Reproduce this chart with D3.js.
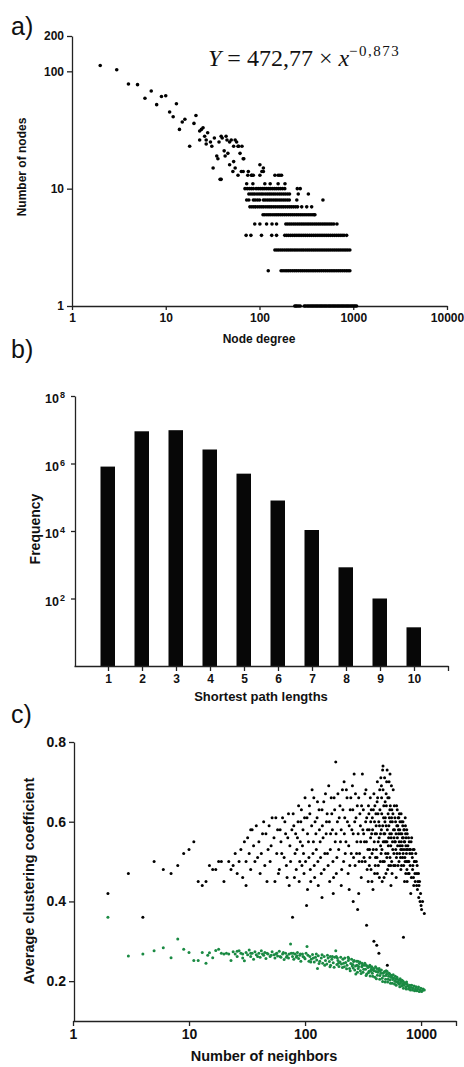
<!DOCTYPE html>
<meta charset="utf-8">
<style>
body { margin: 0; background: #fff; }
svg { display: block; font-family: "Liberation Sans", Arial, sans-serif; }
.axis path, .axis line { stroke: #222; stroke-width: 1.3px; }
.axis text { font-weight: bold; fill: #111; }
.lbl { font-weight: bold; fill: #111; }
.panel { font-size: 25px; fill: #111; }
</style>
<body>
<div id="chart"></div>
<script src="https://d3js.org/d3.v7.min.js"></script>
<script>
// ---- a) degree distribution: [degree, number of nodes]
var degreeSparse = [[2,112],[3,103],[4,78],[5,77],[6,59],[7,68],[8,52],[9,61],[10,62],[11,45],[12,41],[13,53],
  [14,32],[15,37],[16,39],[18,23],[20,36],[21,42],[23,31],[23,26],[24,32],[25,33],[26,28],[27,26],[27,24],[28,30],
  [30,25],[31,23],[32,15],[33,27],[35,19],[36,18],[37,25],[39,12],[39,28],[40,27],[42,21],[43,19],[44,28],[45,26],
  [46,20],[48,25],[48,16],[50,26],[53,23],[53,17],[55,15],[55,26],[57,25],[59,23],[60,23],[62,20],[64,14],[65,23],
  [67,18],[68,18],[76,14],[82,13],[86,13],[101,16],[110,15],[110,14],[158,13],[52,14],[59,13],[67,14],[83,13],
  [106,14],[172,13],[38,12],[75,13],[101,13],[146,13],[165,13]];
// rows of nodes sharing the same count: [count, degrees]
var degreeRows = [
  [11, [73,85,114,130,158,187]],
  [10, [70,74,78,82,86,92,97,102,107,112,118,124,130,137,144,151,159,167,176,186,253,272]],
  [9, [77,81,85,89,94,99,104,109,115,121,127,133,140,147,155,163,171,180,189,199,209,259,332]],
  [8, [73,77,86,90,95,100,110,115,121,127,133,140,147,154,162,170,179,188,198,208,250,475]],
  [7, [79,83,87,91,96,101,106,111,117,123,129,135,142,149,157,165,173,181,190,200,210,220,231,243,255,282,319,360]],
  [6, [109,114,120,126,132,139,146,153,160,168,176,185,194,204,214,224,235,247,259,272,285,299,314,330,346,363,380,390]],
  [5, [89,101,119,136,152,191,200,210,220,231,242,254,266,279,292,306,321,336,352,369,387,405,425,445,467,489,512,537,563,590,620,670]],
  [4, [72,81,105,135,152,186,195,204,214,224,235,246,258,270,283,297,311,326,342,358,375,393,412,432,453,475,498,522,547,573,601,630,660,692,725,760,797,850]],
  [3, [146,153,160,168,176,185,194,203,213,223,234,245,257,270,283,296,311,326,341,358,375,393,412,432,453,475,498,522,547,573,601,630,660,692,725,760,797,835,875,920]],
  [2, [124,170,178,187,196,205,215,226,237,248,260,273,286,300,315,330,346,363,380,398,418,438,459,481,504,528,554,580,608,637,668,700,733,768,805,843,880,920]],
  [1, [238,245,252,262,272,300,310,322,333,345,356,368,380,392,405,418,432,446,460,475,490,506,522,540,557,575,594,613,633,654,675,697,720,743,767,792,818,845,872,900,930,960,990,1020,1050,1085]]
];
var degreeTicks = [1, 10, 100, 1000, 10000];
var countTicks = [1, 10, 100, 200];

// ---- b) shortest path lengths
var pathLengths = [1, 2, 3, 4, 5, 6, 7, 8, 9, 10];
var pathFreq = [8.1e5, 9.0e6, 9.7e6, 2.6e6, 5.0e5, 8.0e4, 1.07e4, 840, 100, 14];
var freqTicks = [1e2, 1e4, 1e6, 1e8];

// ---- c) clustering coefficient vs neighbours: [neighbours, coefficient]
var clusterBlack = [[2,0.42],[3,0.47],[4,0.36],[5,0.50],[6,0.48],[7,0.47],[8,0.49],[9,0.52],[10,0.53],[11,0.55],
  [12,0.45],[13,0.44],[14,0.45],[15,0.49],[16,0.48],[17,0.48],[18,0.50],[19,0.50],[20,0.45],[22,0.50],[23,0.48],
  [24,0.49],[25,0.52],[26,0.47],[27,0.50],[28,0.53],[29,0.46],[30,0.55],[31,0.50],[32,0.56],[33,0.52],[34,0.48],
  [35,0.58],[36,0.54],[37,0.50],[38,0.59],[40,0.55],[41,0.47],[42,0.52],[44,0.60],[45,0.49],[46,0.57],[48,0.53],
  [50,0.50],[52,0.61],[54,0.56],[55,0.45],[57,0.52],[58,0.58],[60,0.48],[62,0.55],[64,0.61],[66,0.51],[68,0.57],
  [70,0.46],[72,0.62],[74,0.54],[75,0.50],[78,0.36],[80,0.59],[82,0.52],[84,0.48],[86,0.56],[88,0.64],[90,0.50],
  [92,0.60],[95,0.54],[98,0.47],[100,0.66],[103,0.39],[105,0.57],[108,0.51],[110,0.62],[112,0.45],[115,0.68],
  [118,0.55],[120,0.49],[122,0.60],[125,0.53],[128,0.65],[130,0.44],[133,0.58],[136,0.51],[140,0.63],[143,0.56],
  [146,0.48],[150,0.67],[153,0.60],[156,0.52],[160,0.69],[163,0.45],[166,0.57],[170,0.62],[174,0.50],[178,0.66],
  [182,0.55],[184,0.75],[186,0.47],[190,0.60],[195,0.53],[200,0.64],[205,0.58],[210,0.68],[215,0.50],[217,0.70],
  [220,0.61],[225,0.55],[230,0.66],[235,0.47],[240,0.59],[245,0.63],[250,0.52],[256,0.69],[260,0.57],[265,0.72],
  [270,0.49],[275,0.61],[280,0.55],[284,0.38],[290,0.66],[295,0.52],[300,0.59],[305,0.46],[312,0.72],[318,0.63],
  [325,0.55],[330,0.50],[335,0.68],[339,0.34],[345,0.58],[350,0.45],[355,0.62],[360,0.53],[365,0.66],[370,0.48],
  [375,0.57],[380,0.61],[385,0.43],[392,0.30],[395,0.55],[400,0.64],[405,0.51],[410,0.59],[415,0.29],[420,0.47],
  [425,0.62],[433,0.27],[435,0.56],[440,0.68],[445,0.50],[450,0.71],[455,0.58],[460,0.53],[466,0.73],[470,0.74],
  [475,0.61],[480,0.46],[485,0.55],[490,0.65],[495,0.52],[500,0.59],[505,0.70],[512,0.24],[515,0.48],[520,0.62],
  [525,0.56],[530,0.66],[540,0.51],[545,0.60],[550,0.44],[555,0.57],[560,0.63],[570,0.53],[575,0.68],[580,0.49],
  [590,0.58],[595,0.61],[600,0.55],[610,0.46],[615,0.64],[620,0.52],[630,0.59],[640,0.57],[645,0.50],[650,0.62],
  [660,0.54],[670,0.48],[680,0.60],[690,0.56],[700,0.52],[705,0.31],[710,0.58],[720,0.45],[730,0.61],[740,0.54],
  [750,0.50],[760,0.57],[775,0.47],[790,0.55],[800,0.52],[815,0.42],[830,0.56],[850,0.49],[870,0.53],[890,0.45],
  [910,0.50],[930,0.43],[950,0.47],[980,0.40],[1000,0.39],[1066,0.37],
  [310,0.50],[320,0.57],[340,0.61],[348,0.53],[358,0.49],[368,0.60],[378,0.52],[388,0.63],[398,0.47],[402,0.57],
  [412,0.53],[418,0.65],[428,0.49],[438,0.59],[448,0.54],[458,0.62],[468,0.50],[478,0.57],[488,0.60],[498,0.47],
  [508,0.55],[518,0.52],[528,0.59],[538,0.63],[548,0.54],[558,0.50],[565,0.60],[585,0.56],[605,0.53],[625,0.56],
  [635,0.61],[655,0.58],[665,0.51],[675,0.55],[685,0.53],[695,0.59],[715,0.55],[725,0.51],[735,0.57],[745,0.53],
  [755,0.48],[770,0.54],[785,0.50],[810,0.53],[840,0.51],[860,0.46],[880,0.50],[920,0.47],[960,0.44],[990,0.42],
  [105,0.43],[140,0.41],[175,0.42],[205,0.44],[240,0.43],[260,0.40],[290,0.42],
  [31,0.44],[34,0.58],[39,0.51],[43,0.57],[47,0.45],[49,0.59],[51,0.54],[56,0.61],[59,0.47],[61,0.58],[63,0.52],
  [67,0.60],[69,0.49],[71,0.56],[73,0.44],[77,0.58],[79,0.62],[81,0.46],[83,0.57],[85,0.53],[87,0.60],[89,0.45],
  [91,0.55],[93,0.63],[94,0.49],[96,0.58],[97,0.52],[99,0.61],
  [101,0.50],[104,0.61],[107,0.55],[109,0.64],[111,0.48],[114,0.59],[117,0.52],[119,0.66],[121,0.46],[124,0.57],
  [127,0.61],[129,0.50],[132,0.63],[135,0.55],[138,0.47],[141,0.59],[145,0.65],[148,0.52],[152,0.57],[155,0.62],
  [158,0.49],[162,0.60],[165,0.53],[168,0.66],[172,0.58],[176,0.46],[180,0.63],[185,0.57],[188,0.51],[192,0.67],
  [197,0.61],[202,0.55],[207,0.48],[212,0.63],[218,0.57],[222,0.52],[227,0.68],[232,0.60],[238,0.54],[243,0.49],
  [248,0.66],[253,0.58],[258,0.63],[262,0.51],[268,0.60],[272,0.67],[278,0.52],[282,0.64],[287,0.57],[292,0.50],
  [297,0.62],
  [302,0.55],[307,0.64],[315,0.58],[322,0.51],[328,0.67],[333,0.60],[338,0.55],[343,0.48],[352,0.64],[357,0.58],
  [362,0.51],[367,0.56],[372,0.63],[377,0.45],[382,0.58],[387,0.53],[392,0.67],[397,0.60],[403,0.49],[408,0.62],
  [413,0.57],[417,0.51],[422,0.66],[427,0.55],[432,0.60],[437,0.46],[442,0.63],[447,0.57],[452,0.52],[457,0.66],
  [462,0.45],[467,0.59],[472,0.55],[477,0.64],[482,0.50],[487,0.57],[492,0.61],[497,0.55],[502,0.64],[507,0.51],
  [512,0.58],[517,0.66],[522,0.54],[527,0.49],[533,0.61],[537,0.57],[543,0.64],[547,0.49],[552,0.56],[557,0.61],
  [562,0.47],[567,0.55],[572,0.62],[578,0.58],[583,0.52],[588,0.64],[593,0.55],[598,0.49],[603,0.60],[608,0.57],
  [613,0.51],[618,0.59],[623,0.63],[628,0.54],[633,0.49],[638,0.58],[643,0.61],[648,0.55],[653,0.52],[658,0.60],
  [663,0.57],[668,0.53],[673,0.62],[678,0.49],[683,0.57],[688,0.54],[693,0.51],[698,0.60],[703,0.56],[708,0.49],
  [713,0.53],[718,0.58],[723,0.55],[728,0.50],[733,0.59],[738,0.47],[743,0.56],[748,0.52],[753,0.58],[758,0.45],
  [765,0.53],[772,0.50],[780,0.56],[788,0.47],[795,0.53],[805,0.49],[820,0.55],[825,0.46],[835,0.52],[845,0.48],
  [855,0.53],[865,0.44],[875,0.50],[885,0.47],[900,0.52],[915,0.44],[925,0.49],[940,0.45],[955,0.41],[970,0.45],
  [1010,0.38],[1030,0.40],
  [420,0.70],[455,0.69],[485,0.71],[500,0.67],[530,0.70],[540,0.72],[555,0.69],[510,0.73],[470,0.68]];
var clusterGreen = [[2,0.36],[3,0.263],[4,0.268],[5,0.276],[6,0.284],[7,0.259],[8,0.306],[9,0.28],[10,0.272],
  [11,0.252],[12,0.252],[13,0.272],[14,0.245],[14.5,0.265],[15,0.271],[16,0.259],[17,0.277],[18,0.28],[19,0.27],
  [20,0.268],[21,0.27],[22,0.268],[23,0.252],[24,0.274],[25,0.268],[26,0.262],[27,0.276],[28,0.27],[29,0.258],
  [30,0.251],[31,0.272],[32,0.266],[33,0.278],[34,0.262],[35,0.27],[36,0.255],[37,0.274],[38,0.266],[40,0.27],
  [41,0.26],[42,0.276],[44,0.265],[45,0.272],[46,0.257],[48,0.268],[50,0.262],[52,0.274],[54,0.266],[55,0.258],
  [57,0.27],[58,0.263],[60,0.275],[62,0.26],[64,0.268],[66,0.254],[68,0.27],[70,0.264],[72,0.258],[75,0.293],
  [76,0.27],[78,0.262],[80,0.255],[82,0.268],[84,0.26],[86,0.272],[88,0.257],[90,0.265],[92,0.25],[95,0.268],
  [98,0.26],[100,0.256],[104,0.287],[106,0.265],[108,0.25],[110,0.262],[113,0.255],[116,0.267],[120,0.248],
  [123,0.26],[126,0.253],[128,0.232],[130,0.264],[134,0.25],[138,0.258],[142,0.245],[146,0.262],[150,0.252],
  [154,0.243],[158,0.258],[162,0.249],[166,0.24],[170,0.255],[175,0.246],[180,0.26],[184,0.276],[188,0.242],
  [192,0.252],[196,0.237],[200,0.248],[206,0.243],[212,0.255],[218,0.236],[224,0.247],[230,0.24],[236,0.252],
  [242,0.232],[248,0.244],[255,0.238],[262,0.249],[268,0.228],[274,0.218],[280,0.24],[287,0.232],[294,0.244],
  [300,0.226],[308,0.236],[316,0.222],[324,0.24],[332,0.23],[340,0.218],[348,0.234],[356,0.225],[364,0.213],
  [372,0.23],[380,0.22],[390,0.232],[400,0.21],[410,0.224],[420,0.215],[430,0.228],[440,0.205],[450,0.22],
  [466,0.199],[475,0.213],[485,0.224],[495,0.205],[505,0.218],[515,0.198],[525,0.212],[540,0.203],[555,0.215],
  [565,0.195],[580,0.208],[595,0.2],[610,0.19],[625,0.205],[640,0.195],[655,0.186],[670,0.2],[690,0.19],
  [705,0.182],[720,0.196],[740,0.186],[760,0.192],[780,0.18],[800,0.19],[820,0.184],[845,0.178],[870,0.188],
  [895,0.18],[920,0.176],[950,0.185],[980,0.178],[1010,0.174],[1040,0.18],[1066,0.178],
  [165,0.262],[190,0.258],[215,0.245],[235,0.26],[258,0.242],[285,0.25],[310,0.245],[335,0.24],[360,0.236],
  [385,0.228],[415,0.232],[445,0.226],[470,0.22],[500,0.226],[530,0.22],[560,0.21],[600,0.212],[630,0.198],
  [660,0.206],[700,0.2],[750,0.198],
  [102,0.27],[112,0.248],[118,0.258],[125,0.268],[132,0.244],[140,0.266],[148,0.24],[156,0.265],[164,0.236],
  [172,0.262],[178,0.235],[186,0.262],[194,0.245],[203,0.26],[210,0.234],[220,0.258],[228,0.231],[238,0.257],
  [245,0.226],[252,0.255],[260,0.233],[265,0.252],[272,0.238],[278,0.25],[283,0.222],[290,0.237],[297,0.248],
  [304,0.219],[312,0.24],[320,0.23],[328,0.245],[336,0.214],[344,0.238],[352,0.221],[362,0.24],[368,0.225],
  [376,0.236],[383,0.212],[395,0.226],[405,0.236],[412,0.206],[425,0.222],[435,0.232],[442,0.214],[455,0.228],
  [462,0.207],[480,0.222],[490,0.198],[498,0.214],[510,0.224],[520,0.205],[535,0.218],[545,0.195],[550,0.21],
  [570,0.204],[575,0.216],[590,0.193],[605,0.205],[615,0.198],[620,0.21],[645,0.203],[650,0.192],[665,0.196],
  [680,0.188],[685,0.202],[695,0.194],[710,0.19],[730,0.194],[745,0.18],[770,0.188],[790,0.184],[810,0.178],
  [830,0.19],[855,0.183],[880,0.176],[905,0.186],[935,0.18],[965,0.174],[995,0.182],[1025,0.176],
  [26,0.275],[29,0.268],[34,0.27],[39,0.262],[43,0.268],[47,0.27],[51,0.265],[56,0.268],[61,0.262],[65,0.272],
  [69,0.26],[73,0.268],[79,0.27],[85,0.264],[91,0.268],[96,0.262]];
var neighbourTicks = [1, 10, 100, 1000, 2000];
var coefTicks = [0.2, 0.4, 0.6, 0.8];

var svg = d3.select("#chart").append("svg")
    .attr("width", 464)
    .attr("height", 1067);

// ================= a) =================
var ax = d3.scaleLog().domain([1, 10000]).range([72, 447]);
var ay = d3.scaleLog().domain([1, 200]).range([306, 36]);

svg.append("text").attr("class", "panel").attr("x", 11).attr("y", 35).text("a)");

svg.append("g").attr("class", "axis")
    .attr("transform", "translate(0,306)")
    .style("font-size", "12px")
    .call(d3.axisBottom(ax).tickValues(degreeTicks).tickFormat(d3.format("d")).tickSize(4).tickSizeOuter(0));
svg.append("g").attr("class", "axis")
    .attr("transform", "translate(72,0)")
    .style("font-size", "12px")
    .call(d3.axisLeft(ay).tickValues(countTicks).tickFormat(d3.format("d")).tickSize(5).tickSizeOuter(0));

var aPoints = degreeSparse.slice();
degreeRows.forEach(function(r) {
  r[1].forEach(function(d) { aPoints.push([d, r[0]]); });
});
svg.append("g").selectAll("circle")
    .data(aPoints)
  .enter().append("circle")
    .attr("cx", function(d) { return ax(d[0]); })
    .attr("cy", function(d) { return ay(d[1]); })
    .attr("r", 1.8)
    .attr("fill", "#000");

svg.append("text").attr("class", "lbl")
    .attr("x", 259).attr("y", 343)
    .attr("text-anchor", "middle").style("font-size", "12px")
    .text("Node degree");
svg.append("text").attr("class", "lbl")
    .attr("transform", "translate(26,167) rotate(-90)")
    .attr("text-anchor", "middle").style("font-size", "12px")
    .text("Number of nodes");

// fitted power law
var formula = svg.append("text")
    .attr("x", 208).attr("y", 66)
    .style("font-family", "'Liberation Serif', 'DejaVu Serif', serif")
    .style("font-size", "24px").attr("fill", "#111");
formula.append("tspan").style("font-style", "italic").text("Y");
formula.append("tspan").text(" = 472,77 × ");
formula.append("tspan").style("font-style", "italic").text("x");
formula.append("tspan").attr("dy", -10).style("font-size", "15px").style("letter-spacing", "1.5px").text("−0,873");

// ================= b) =================
var bx = d3.scaleLinear().domain([0, 11]).range([74, 448]);
var by = d3.scaleLog().domain([1, 1e8]).range([666, 396]);

svg.append("text").attr("class", "panel").attr("x", 11).attr("y", 358).text("b)");

svg.append("g").selectAll("rect")
    .data(pathLengths)
  .enter().append("rect")
    .attr("x", function(d) { return bx(d) - 7.5; })
    .attr("y", function(d, i) { return by(pathFreq[i]); })
    .attr("width", 14.5)
    .attr("height", function(d, i) { return by(1) - by(pathFreq[i]); })
    .attr("fill", "#070707");

svg.append("g").attr("class", "axis")
    .attr("transform", "translate(0,666)")
    .style("font-size", "12px")
    .call(d3.axisBottom(bx).tickValues(pathLengths.concat([11]))
      .tickFormat(function(d) { return d <= 10 ? d : ""; }).tickSize(5).tickSizeOuter(0));

var bLeft = svg.append("g").attr("class", "axis")
    .attr("transform", "translate(75,0)")
    .call(d3.axisLeft(by).tickValues(freqTicks).tickFormat(function() { return ""; }).tickSize(4).tickSizeOuter(0));
bLeft.selectAll(".tick").each(function(d) {
  var t = d3.select(this).append("text")
      .attr("x", -10).attr("y", 0).attr("dy", "6.5px")
      .attr("text-anchor", "end").style("font-size", "12.5px");
  t.append("tspan").text("10");
  t.append("tspan").attr("dy", "-5px").attr("dx", "1px").style("font-size", "9px").text(Math.round(Math.log10(d)));
});

svg.append("text").attr("class", "lbl")
    .attr("x", 261).attr("y", 701)
    .attr("text-anchor", "middle").style("font-size", "13px")
    .text("Shortest path lengths");
svg.append("text").attr("class", "lbl")
    .attr("transform", "translate(40,529) rotate(-90)")
    .attr("text-anchor", "middle").style("font-size", "14px")
    .text("Frequency");

// ================= c) =================
var cx = d3.scaleLog().domain([1, 2000]).range([73, 456]);
var cy = d3.scaleLinear().domain([0.1, 0.8]).range([1021, 742]);

svg.append("text").attr("class", "panel").attr("x", 11).attr("y", 723).text("c)");

svg.append("g").selectAll("circle")
    .data(clusterGreen)
  .enter().append("circle")
    .attr("cx", function(d) { return cx(d[0]); })
    .attr("cy", function(d) { return cy(d[1]); })
    .attr("r", 1.5)
    .attr("fill", "#1a8a43");
svg.append("g").selectAll("circle")
    .data(clusterBlack)
  .enter().append("circle")
    .attr("cx", function(d) { return cx(d[0]); })
    .attr("cy", function(d) { return cy(d[1]); })
    .attr("r", 1.5)
    .attr("fill", "#000");

svg.append("g").attr("class", "axis")
    .attr("transform", "translate(0,1021)")
    .style("font-size", "14px")
    .call(d3.axisBottom(cx).tickValues(neighbourTicks)
      .tickFormat(function(d) { return d === 2000 ? "" : d; }).tickSize(5).tickSizeOuter(0));
svg.append("g").attr("class", "axis")
    .attr("transform", "translate(74,0)")
    .style("font-size", "14px")
    .call(d3.axisLeft(cy).tickValues(coefTicks).tickFormat(d3.format(".1f")).tickSize(5).tickSizeOuter(0));

svg.append("text").attr("class", "lbl")
    .attr("x", 264).attr("y", 1061)
    .attr("text-anchor", "middle").style("font-size", "14.5px")
    .text("Number of neighbors");
svg.append("text").attr("class", "lbl")
    .attr("transform", "translate(34,881) rotate(-90)")
    .attr("text-anchor", "middle").style("font-size", "14.5px")
    .text("Average clustering coefficient");
</script>
</body>
